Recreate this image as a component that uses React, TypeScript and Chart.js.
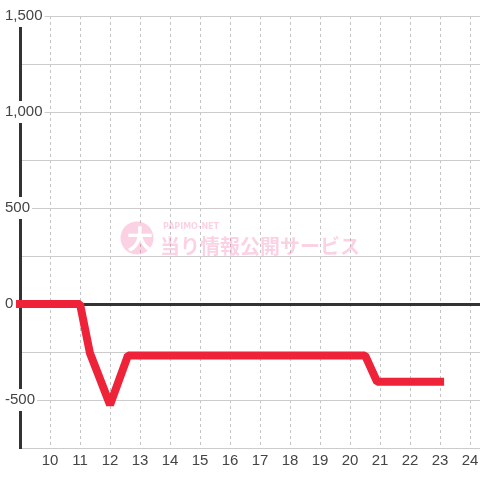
import React, { useEffect, useRef } from 'react';
import { Chart, registerables } from 'chart.js';

Chart.register(...registerables);

// Data (hour of day -> medal difference)
const hours = [9, 11, 11.33, 12, 12.6, 20.5, 20.9, 23];
const diff = [0, 0, -255, -525, -268, -268, -405, -405];

const xMin = 9;
const xMax = 24.33;
const yMin = -750;
const yMax = 1500;
const yGridStep = 250;
const yLabelStep = 500;

const watermarkBadge = '大';
const watermarkBrand = 'PAPIMO-NET';
const watermarkTitle = '当り情報公開サービス';

const FONT = '"Liberation Sans", Arial, sans-serif';

const watermarkPlugin = {
  id: 'watermark',
  beforeDatasetsDraw(chart: any) {
    const { ctx, width } = chart;
    const cx = width / 2;
    const pink = 'rgba(240, 80, 150, 0.26)';
    ctx.save();
    ctx.fillStyle = pink;
    ctx.beginPath();
    ctx.arc(cx - 103, 238, 16.5, 0, Math.PI * 2);
    ctx.fill();
    ctx.fillStyle = '#ffffff';
    ctx.font = 'bold 26px "Noto Sans CJK JP"';
    ctx.textAlign = 'center';
    ctx.textBaseline = 'middle';
    ctx.fillText(watermarkBadge, cx - 100, 239);
    ctx.fillStyle = pink;
    ctx.textAlign = 'left';
    ctx.font = 'bold 20px "Noto Sans CJK JP"';
    ctx.fillText(watermarkTitle, cx - 80, 246);
    ctx.font = 'bold 8px "DejaVu Sans"';
    ctx.fillText(watermarkBrand, cx - 77, 227);
    ctx.restore();
  },
};

export default function App() {
  const canvasRef = useRef<HTMLCanvasElement | null>(null);

  useEffect(() => {
    if (!canvasRef.current) return;
    const chart = new Chart(canvasRef.current, {
      type: 'line',
      data: {
        datasets: [
          {
            data: hours.map((h, i) => ({ x: h, y: diff[i] })),
            borderColor: '#ee2238',
            borderWidth: 8,
            pointRadius: 0,
            borderJoinStyle: 'bevel',
            borderCapStyle: 'square',
            tension: 0,
            fill: false,
            clip: false,
          },
        ],
      },
      options: {
        responsive: false,
        animation: false,
        devicePixelRatio: 1,
        layout: { padding: { left: 20, top: 16, right: 0, bottom: 10 } },
        plugins: {
          legend: { display: false },
          tooltip: { enabled: false },
        },
        scales: {
          x: {
            type: 'linear',
            min: xMin,
            max: xMax,
            ticks: {
              stepSize: 1,
              includeBounds: false,
              autoSkip: false,
              maxRotation: 0,
              padding: 0,
              color: '#444',
              font: { family: FONT, size: 15 },
              callback: (v: any) => (v === xMin ? '' : String(v)),
            },
            grid: {
              color: (c: any) => (c.tick && c.tick.value === xMin ? 'rgba(0,0,0,0)' : '#c4c4c4'),
              lineWidth: 1,
              drawTicks: true,
              tickLength: 4,
              tickColor: 'rgba(0,0,0,0)',
            },
            border: { color: '#cccccc', width: 1, dash: [3, 3] },
          },
          y: {
            type: 'linear',
            min: yMin,
            max: yMax,
            afterFit: (scale: any) => {
              scale.width = 0;
            },
            ticks: {
              stepSize: yGridStep,
              mirror: true,
              padding: -15,
              color: '#444',
              font: { family: FONT, size: 15 },
              showLabelBackdrop: true,
              backdropColor: '#ffffff',
              backdropPadding: { top: 2, bottom: 2, left: 2, right: 2 },
              callback: (v: any) => (v % yLabelStep === 0 ? Number(v).toLocaleString('en-US') : ''),
            },
            grid: {
              color: (c: any) => (c.tick && c.tick.value === 0 ? '#333333' : '#cccccc'),
              lineWidth: (c: any) => (c.tick && c.tick.value === 0 ? 3 : 1),
              drawTicks: false,
            },
            border: { color: '#333333', width: 3 },
          },
        },
      },
      plugins: [watermarkPlugin],
    } as any);
    return () => chart.destroy();
  }, []);

  return (
    <div style={{ position: 'fixed', left: 0, top: 0, width: 480, height: 480, background: '#fff' }}>
      <canvas ref={canvasRef} width={480} height={480} style={{ display: 'block' }} />
    </div>
  );
}
